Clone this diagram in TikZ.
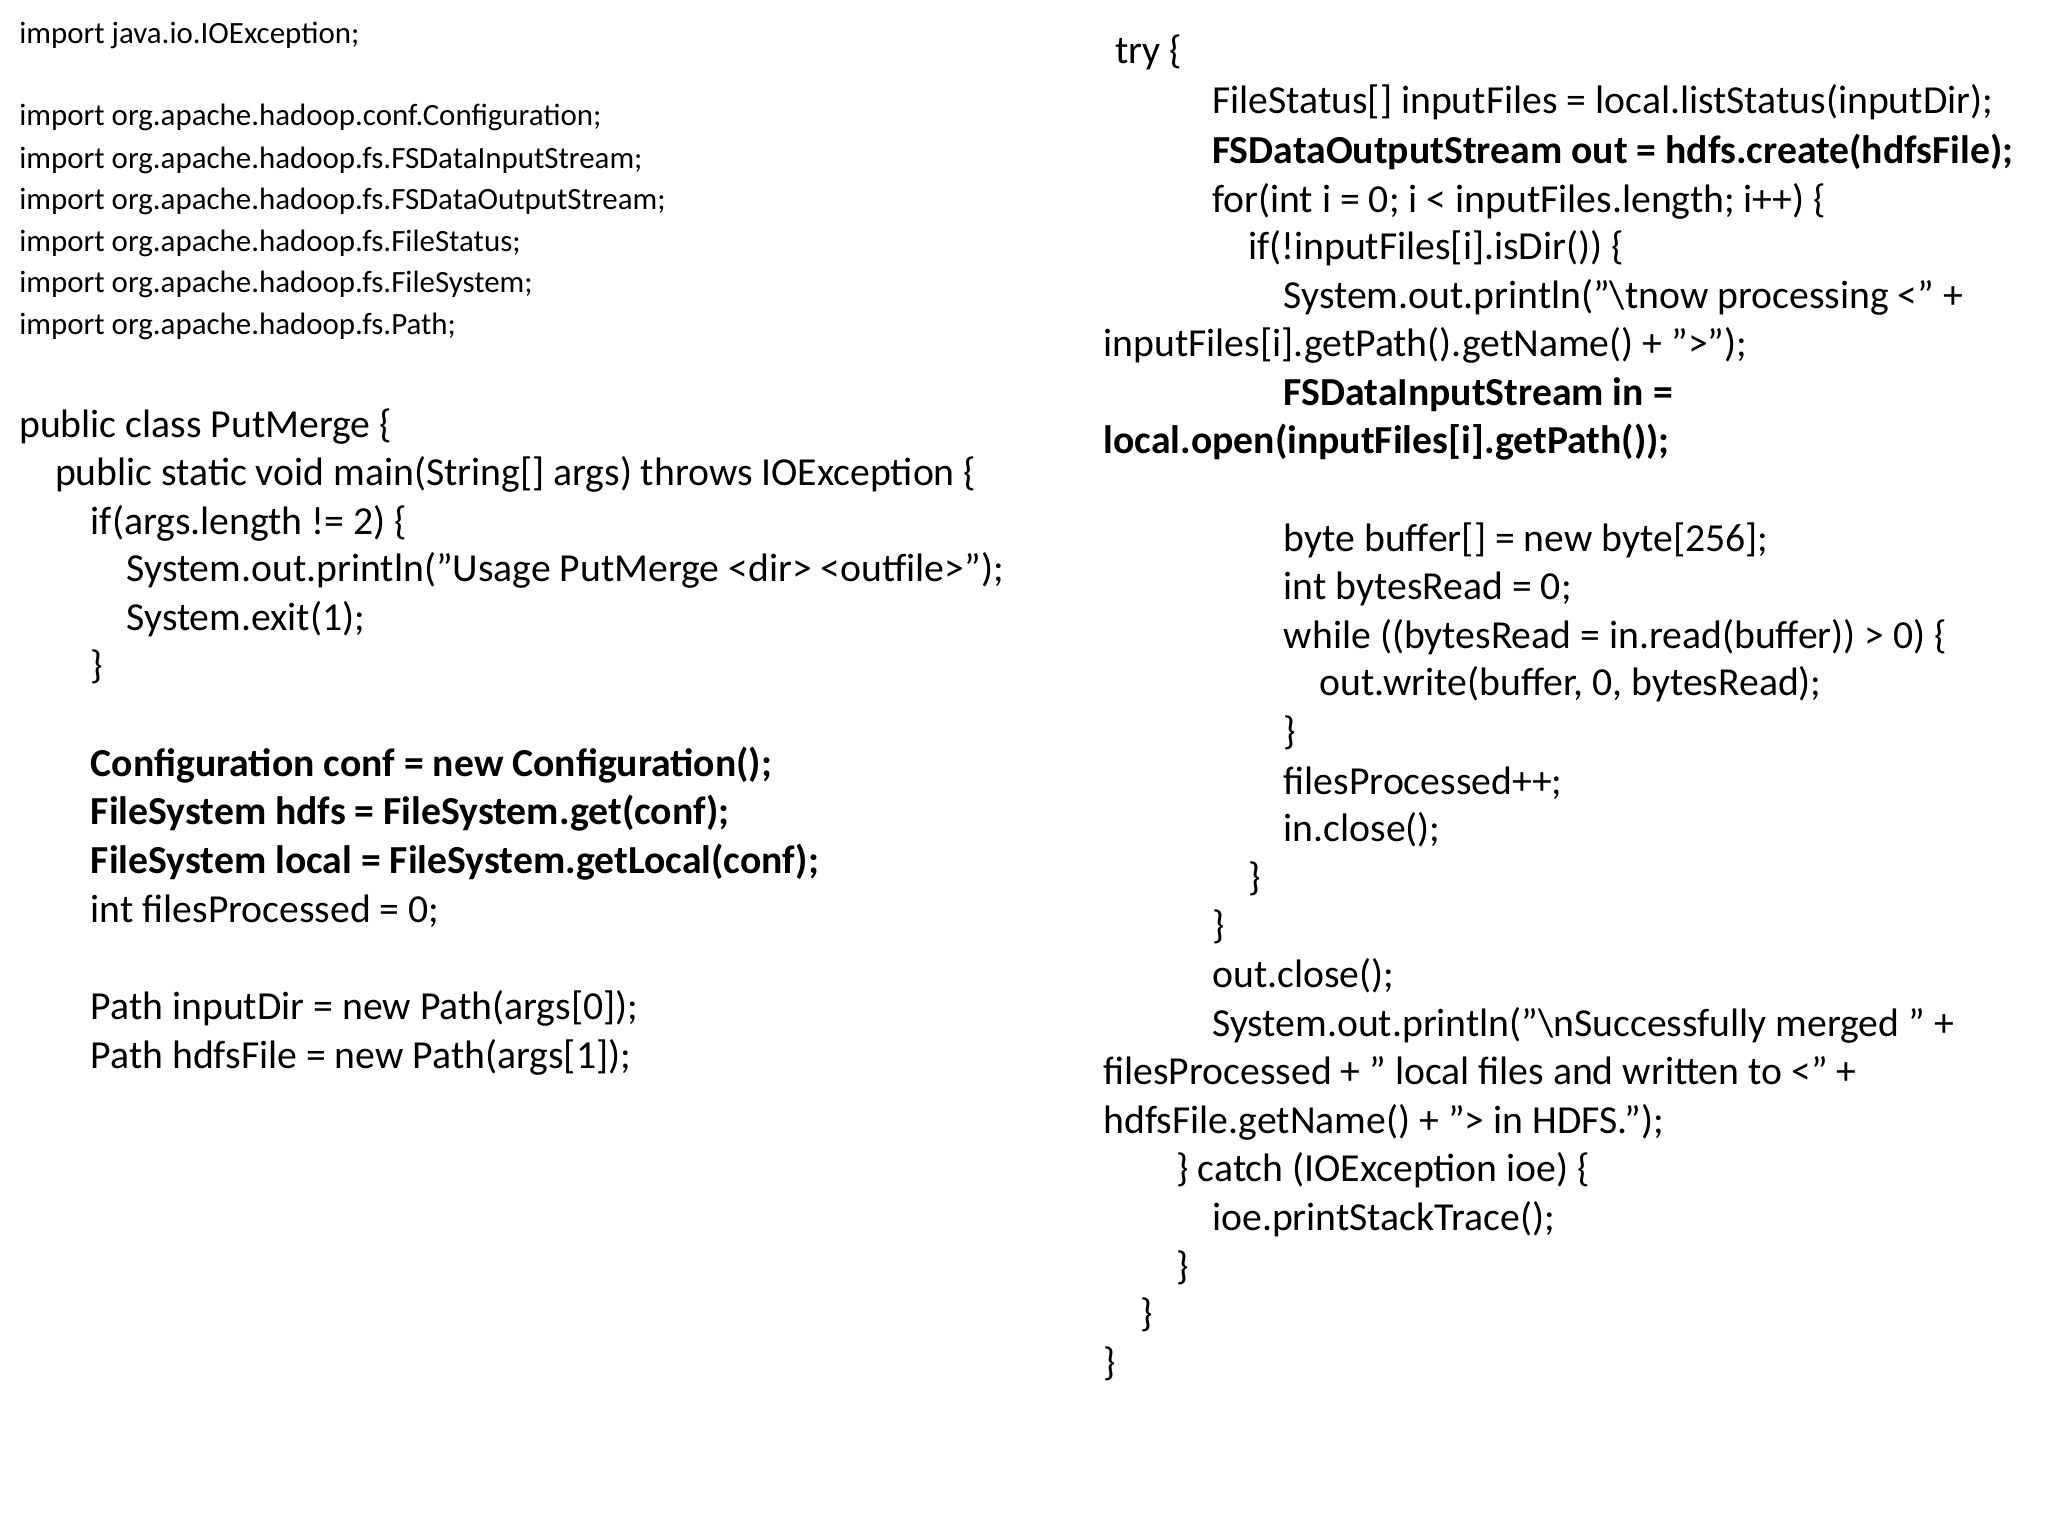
\documentclass[tikz,border=0pt]{standalone}
\usepackage{fontspec}
\setmainfont{Carlito}
\tikzset{code/.style={anchor=base west,inner sep=0pt,font=\fontsize{11.3}{13}\selectfont},
small/.style={anchor=base west,inner sep=0pt,font=\fontsize{8.8}{10}\selectfont},
bcode/.style={code,font=\fontsize{11.3}{13}\selectfont\bfseries}}
\newcommand\Ln[5]{\node[#1] (#2) at (#3,#4+8) {#5};}
\begin{document}
\begin{tikzpicture}[x=0.013256cm,y=-0.013256cm]
\fill[white] (0,0) rectangle (1545,1158);
\Ln{small}{a1}{14}{25}{import java.io.IOException;}
\Ln{small}{a2}{14}{87}{import org.apache.hadoop.conf.Configuration;}
\Ln{small}{a3}{14}{119}{import org.apache.hadoop.fs.FSDataInputStream;}
\Ln{small}{a4}{14}{150}{import org.apache.hadoop.fs.FSDataOutputStream;}
\Ln{small}{a5}{14}{182}{import org.apache.hadoop.fs.FileStatus;}
\Ln{small}{a6}{14}{213}{import org.apache.hadoop.fs.FileSystem;}
\Ln{small}{a7}{14}{244}{import org.apache.hadoop.fs.Path;}
\Ln{code}{b1}{14}{322}{public class PutMerge \{}
\Ln{code}{b2}{41}{358}{public static void main(String[] args) throws IOException \{}
\Ln{code}{b3}{68}{395}{if(args.length != 2) \{}
\Ln{code}{b4}{95}{431}{System.out.println("Usage PutMerge <dir> <outfile>");}
\Ln{code}{b5}{95}{468}{System.exit(1);}
\Ln{code}{b6}{68}{504}{\}}
\Ln{bcode}{b7}{68}{578}{Configuration conf = new Configuration();}
\Ln{bcode}{b8}{68}{614}{FileSystem hdfs = FileSystem.get(conf);}
\Ln{bcode}{b9}{68}{651}{FileSystem local = FileSystem.getLocal(conf);}
\Ln{code}{b10}{68}{688}{int filesProcessed = 0;}
\Ln{code}{b11}{68}{761}{Path inputDir = new Path(args[0]);}
\Ln{code}{b12}{68}{798}{Path hdfsFile = new Path(args[1]);}
\Ln{code}{c1}{841}{40}{try \{}
\Ln{code}{c2}{914}{78}{FileStatus[] inputFiles = local.listStatus(inputDir);}
\Ln{bcode}{c3}{914}{115}{FSDataOutputStream out = hdfs.create(hdfsFile);}
\Ln{code}{c4}{914}{152}{for(int i = 0; i < inputFiles.length; i++) \{}
\Ln{code}{c5}{941}{188}{if(!inputFiles[i].isDir()) \{}
\Ln{code}{c6}{968}{225}{System.out.println("\textbackslash tnow processing <" +}
\Ln{code}{c7}{832}{261}{inputFiles[i].getPath().getName() + ">");}
\Ln{bcode}{c8}{968}{298}{FSDataInputStream in =}
\Ln{bcode}{c9}{832}{334}{local.open(inputFiles[i].getPath());}
\Ln{code}{c10}{968}{408}{byte buffer[] = new byte[256];}
\Ln{code}{c11}{968}{444}{int bytesRead = 0;}
\Ln{code}{c12}{968}{481}{while ((bytesRead = in.read(buffer)) > 0) \{}
\Ln{code}{c13}{995}{517}{out.write(buffer, 0, bytesRead);}
\Ln{code}{c14}{968}{554}{\}}
\Ln{code}{c15}{968}{591}{filesProcessed++;}
\Ln{code}{c16}{968}{627}{in.close();}
\Ln{code}{c17}{941}{664}{\}}
\Ln{code}{c18}{914}{700}{\}}
\Ln{code}{c19}{914}{737}{out.close();}
\Ln{code}{c20}{914}{774}{System.out.println("\textbackslash nSuccessfully merged " +}
\Ln{code}{c21}{832}{810}{filesProcessed + " local files and written to <" +}
\Ln{code}{c22}{832}{847}{hdfsFile.getName() + "> in HDFS.");}
\Ln{code}{c23}{887}{883}{\} catch (IOException ioe) \{}
\Ln{code}{c24}{914}{920}{ioe.printStackTrace();}
\Ln{code}{c25}{887}{957}{\}}
\Ln{code}{c26}{860}{993}{\}}
\Ln{code}{c27}{832}{1030}{\}}
\end{tikzpicture}
\end{document}
